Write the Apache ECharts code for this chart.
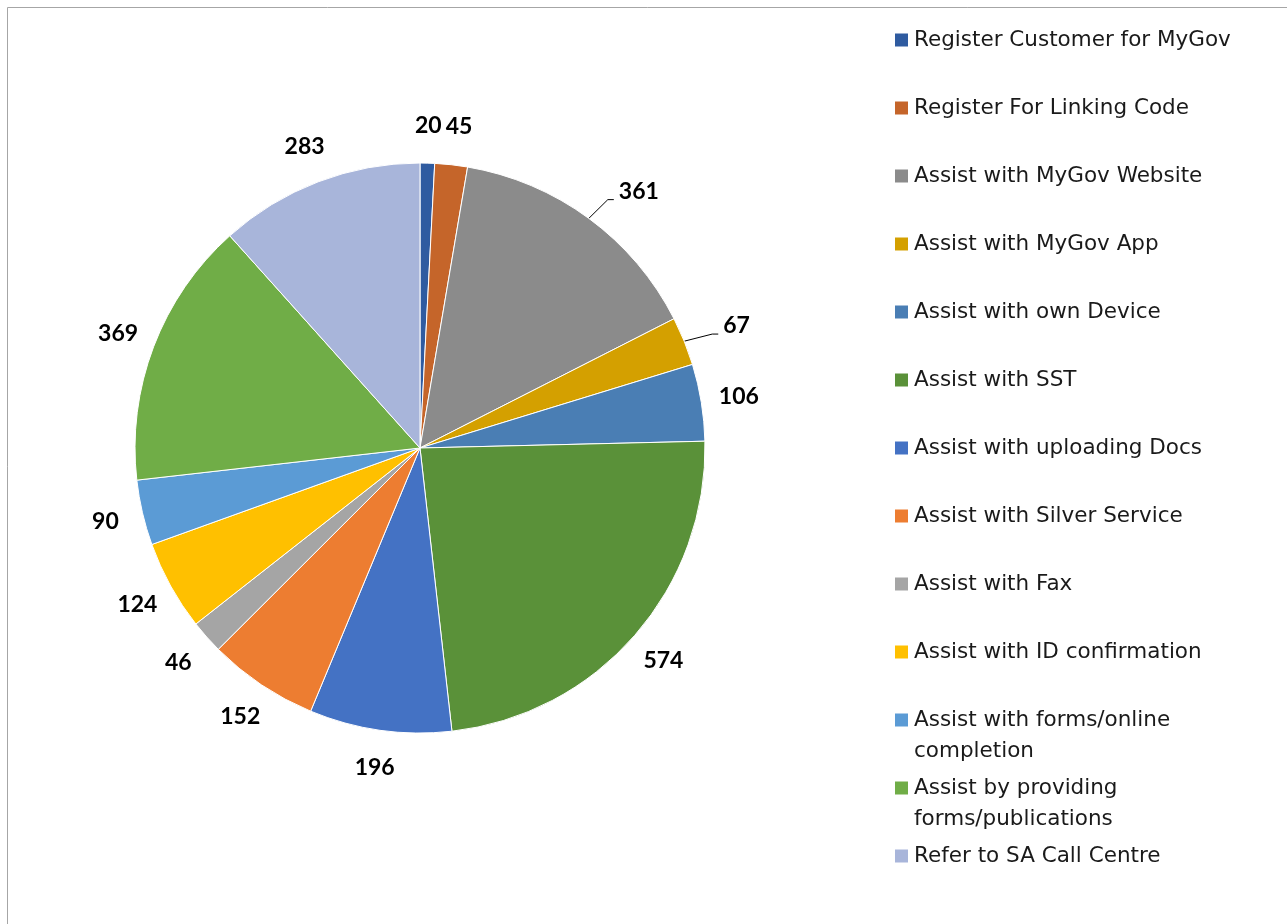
<!DOCTYPE html>
<html>
<head>
<meta charset="utf-8">
<script src="https://cdn.jsdelivr.net/npm/echarts@6/dist/echarts.min.js"></script>
<style>
  html, body { margin: 0; padding: 0; background: #fff; }
  #chart { width: 1287px; height: 924px; }
</style>
</head>
<body>
<div id="chart"></div>
<script>
// Service assistance categories and their counts
const categories = [
  'Register Customer for MyGov',
  'Register For Linking Code',
  'Assist with MyGov Website',
  'Assist with MyGov App',
  'Assist with own Device',
  'Assist with SST',
  'Assist with uploading Docs',
  'Assist with Silver Service',
  'Assist with Fax',
  'Assist with ID confirmation',
  'Assist with forms/online completion',
  'Assist by providing forms/publications',
  'Refer to SA Call Centre'
];
const counts = [20, 45, 361, 67, 106, 574, 196, 152, 46, 124, 90, 369, 283];
const colors = [
  '#2F5BA0', '#C5652A', '#8B8B8B', '#D4A000', '#4A7EB4', '#5A9139',
  '#4472C4', '#ED7D31', '#A5A5A5', '#FFC000', '#5B9BD5', '#70AD47', '#A8B5DA'
];
// legend text as shown, with line breaks for long names
const legendText = [
  'Register Customer for MyGov',
  'Register For Linking Code',
  'Assist with MyGov Website',
  'Assist with MyGov App',
  'Assist with own Device',
  'Assist with SST',
  'Assist with uploading Docs',
  'Assist with Silver Service',
  'Assist with Fax',
  'Assist with ID confirmation',
  'Assist with forms/online\ncompletion',
  'Assist by providing\nforms/publications',
  'Refer to SA Call Centre'
];
// slices whose labels sit further out with a leader line
const leaderSlices = ['Assist with MyGov Website', 'Assist with MyGov App'];

const LABEL_FONT = 'Lato';
const LEGEND_FONT = 'DejaVu Sans';
const CX = 420, CY = 448, R = 285;
const total = counts.reduce((a, b) => a + b, 0);
const cum = [];
counts.reduce((acc, v, i) => { cum[i] = acc; return acc + v; }, 0);

const chart = echarts.init(document.getElementById('chart'), null, { renderer: 'canvas' });

const LINE_H = 31, ROW = 68, FIRST_ROW = 40;
const legends = categories.map((name, i) => {
  const lines = legendText[i].indexOf('\n') >= 0 ? 3 : 1;
  const text = lines === 3 ? '\n' + legendText[i] : legendText[i];
  return {
    data: [name],
    orient: 'vertical',
    left: 893,
    top: FIRST_ROW + i * ROW - (lines * LINE_H) / 2,
    icon: 'rect',
    itemWidth: 15,
    itemHeight: 15,
    padding: 0,
    selectedMode: false,
    formatter: () => text,
    textStyle: { fontFamily: LEGEND_FONT, fontSize: 21.5, color: '#1a1a1a', lineHeight: LINE_H }
  };
});

// boxes of labels already placed, used to nudge neighbours apart
const placed = [];

chart.setOption({
  animation: false,
  color: colors,
  graphic: [{
    type: 'rect',
    shape: { x: 7.5, y: 7.5, width: 1400, height: 1100 },
    style: { fill: 'none', stroke: '#A6A6A6', lineWidth: 1 },
    silent: true
  }],
  legend: legends,
  series: [{
    type: 'pie',
    center: [CX, CY],
    radius: R,
    startAngle: 90,
    clockwise: true,
    avoidLabelOverlap: false,
    itemStyle: { borderColor: '#fff', borderWidth: 1 },
    label: {
      show: true,
      position: 'outside',
      formatter: '{c}',
      fontFamily: LABEL_FONT,
      fontWeight: 'bold',
      fontSize: 23,
      color: '#000'
    },
    labelLine: { show: false, length: 27, length2: 6, lineStyle: { color: '#000', width: 1 } },
    labelLayout: function (p) {
      const i = p.dataIndex;
      const mid = (cum[i] + counts[i] / 2) / total * 2 * Math.PI;
      const sx = Math.sin(mid), sy = -Math.cos(mid);
      const w = p.labelRect.width, h = p.labelRect.height;
      if (leaderSlices.indexOf(categories[i]) >= 0) {
        const p0 = [CX + R * sx, CY + R * sy];
        const p1 = [CX + (R + 27) * sx + 3, CY + (R + 27) * sy + 3];
        const p2 = [p1[0] + 6, p1[1]];
        placed[i] = { x: p2[0] + 5, y: p2[1] - 8 - h / 2, w, h };
        return {
          x: p2[0] + 5, y: p2[1] - 8,
          align: 'left', verticalAlign: 'middle',
          labelLinePoints: [p0, p1, p2]
        };
      }
      const d = R + 38;
      let x = CX + d * sx, y = CY + d * sy;
      const prev = placed[i - 1];
      if (prev) {
        const left = x - w / 2;
        const overlapY = Math.abs((prev.y + prev.h / 2) - y) < (prev.h + h) / 2;
        if (overlapY && sx >= 0 && left < prev.x + prev.w + 4) {
          x += prev.x + prev.w + 4 - left;
        }
      }
      placed[i] = { x: x - w / 2, y: y - h / 2, w, h };
      return { x, y, align: 'center', verticalAlign: 'middle' };
    },
    data: categories.map((name, i) => ({
      name,
      value: counts[i],
      labelLine: { show: leaderSlices.indexOf(name) >= 0 }
    }))
  }]
});
</script>
</body>
</html>
